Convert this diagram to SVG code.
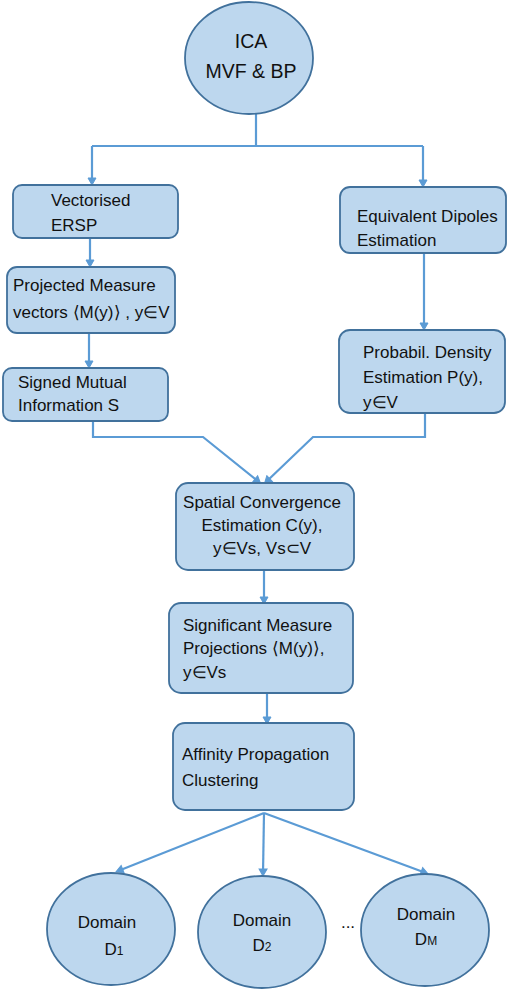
<svg xmlns="http://www.w3.org/2000/svg" width="510" height="993" viewBox="0 0 510 993">
<defs>
<style>
.n{fill:#BDD7EE;stroke:#41719C;stroke-width:1.8}
.t{font-family:"Liberation Sans",Arial,sans-serif;font-size:17px;fill:#111111}
.b{font-size:19.5px}
.c{fill:none;stroke:#5B9BD5;stroke-width:2.2}
.a{fill:none;stroke:#5B9BD5;stroke-width:2.2;marker-end:url(#ar)}
</style>
<marker id="ar" markerWidth="10" markerHeight="10" refX="6" refY="5" orient="auto" markerUnits="userSpaceOnUse">
<path d="M1,1 L8,5 L1,9 Z" fill="#5B9BD5" stroke="#5B9BD5" stroke-width="1"/>
</marker>
</defs>
<rect width="510" height="993" fill="#ffffff"/>
<g id="connectors">
<path class="c" d="M256,113 V146 M92,146 H423"/>
<path class="a" d="M92,146 V183"/>
<path class="a" d="M423,146 V185"/>
<path class="a" d="M90,238 V265"/>
<path class="a" d="M89,333 V366"/>
<path class="a" d="M424,253 V328"/>
<path class="a" d="M93,421 V437 H203 L259,482"/>
<path class="a" d="M425,413 V437 H313 L266,482"/>
<path class="a" d="M264,570 V602"/>
<path class="a" d="M267,693 V722"/>
<path class="a" d="M264,813 L118,871"/>
<path class="a" d="M264,813 L263,874"/>
<path class="a" d="M264,813 L426,873"/>
</g>
<g id="ica">
<ellipse class="n" cx="249" cy="58" rx="64" ry="56"/>
<text class="t b" x="251" y="48" text-anchor="middle">ICA</text>
<text class="t b" x="251" y="78" text-anchor="middle">MVF &amp; BP</text>
</g>
<g id="ersp">
<rect class="n" x="13" y="185" width="165" height="53" rx="9"/>
<text class="t" x="51" y="206">Vectorised</text>
<text class="t" x="51" y="231">ERSP</text>
</g>
<g id="dipoles">
<rect class="n" x="340" y="187" width="166" height="66" rx="10"/>
<text class="t" x="357" y="222">Equivalent Dipoles</text>
<text class="t" x="357" y="246">Estimation</text>
</g>
<g id="projected">
<rect class="n" x="7" y="267" width="168" height="66" rx="10"/>
<text class="t" x="13" y="291">Projected Measure</text>
<text class="t" x="13" y="318">vectors ⟨M(y)⟩ , y∈V</text>
</g>
<g id="signed">
<rect class="n" x="3" y="368" width="165" height="53" rx="9"/>
<text class="t" x="18" y="388">Signed Mutual</text>
<text class="t" x="18" y="411">Information S</text>
</g>
<g id="probabil">
<rect class="n" x="339" y="330" width="166" height="83" rx="11"/>
<text class="t" x="363" y="358">Probabil. Density</text>
<text class="t" x="363" y="383">Estimation P(y),</text>
<text class="t" x="363" y="408">y∈V</text>
</g>
<g id="spatial">
<rect class="n" x="176" y="483" width="178" height="87" rx="12"/>
<text class="t" x="262" y="508" text-anchor="middle">Spatial Convergence</text>
<text class="t" x="262" y="531" text-anchor="middle">Estimation C(y),</text>
<text class="t" x="262" y="554" text-anchor="middle">y∈Vs, Vs⊂V</text>
</g>
<g id="significant">
<rect class="n" x="169" y="603" width="184" height="90" rx="12"/>
<text class="t" x="183" y="631">Significant Measure</text>
<text class="t" x="183" y="654">Projections ⟨M(y)⟩,</text>
<text class="t" x="183" y="678">y∈Vs</text>
</g>
<g id="affinity">
<rect class="n" x="173" y="723" width="181" height="87" rx="12"/>
<text class="t" x="182" y="760">Affinity Propagation</text>
<text class="t" x="182" y="786">Clustering</text>
</g>
<g id="d1">
<ellipse class="n" cx="111" cy="929" rx="64" ry="56"/>
<text class="t" x="107" y="928" text-anchor="middle">Domain</text>
<text class="t" x="114" y="955" text-anchor="middle">D<tspan font-size="12">1</tspan></text>
</g>
<g id="d2">
<ellipse class="n" cx="262" cy="932" rx="64" ry="56"/>
<text class="t" x="262" y="926" text-anchor="middle">Domain</text>
<text class="t" x="262" y="951" text-anchor="middle">D<tspan font-size="12">2</tspan></text>
</g>
<g id="dots">
<text class="t" x="348" y="928" text-anchor="middle">...</text>
</g>
<g id="dm">
<ellipse class="n" cx="425" cy="930" rx="64" ry="56"/>
<text class="t" x="426" y="920" text-anchor="middle">Domain</text>
<text class="t" x="426" y="945" text-anchor="middle">D<tspan font-size="12">M</tspan></text>
</g>
</svg>
